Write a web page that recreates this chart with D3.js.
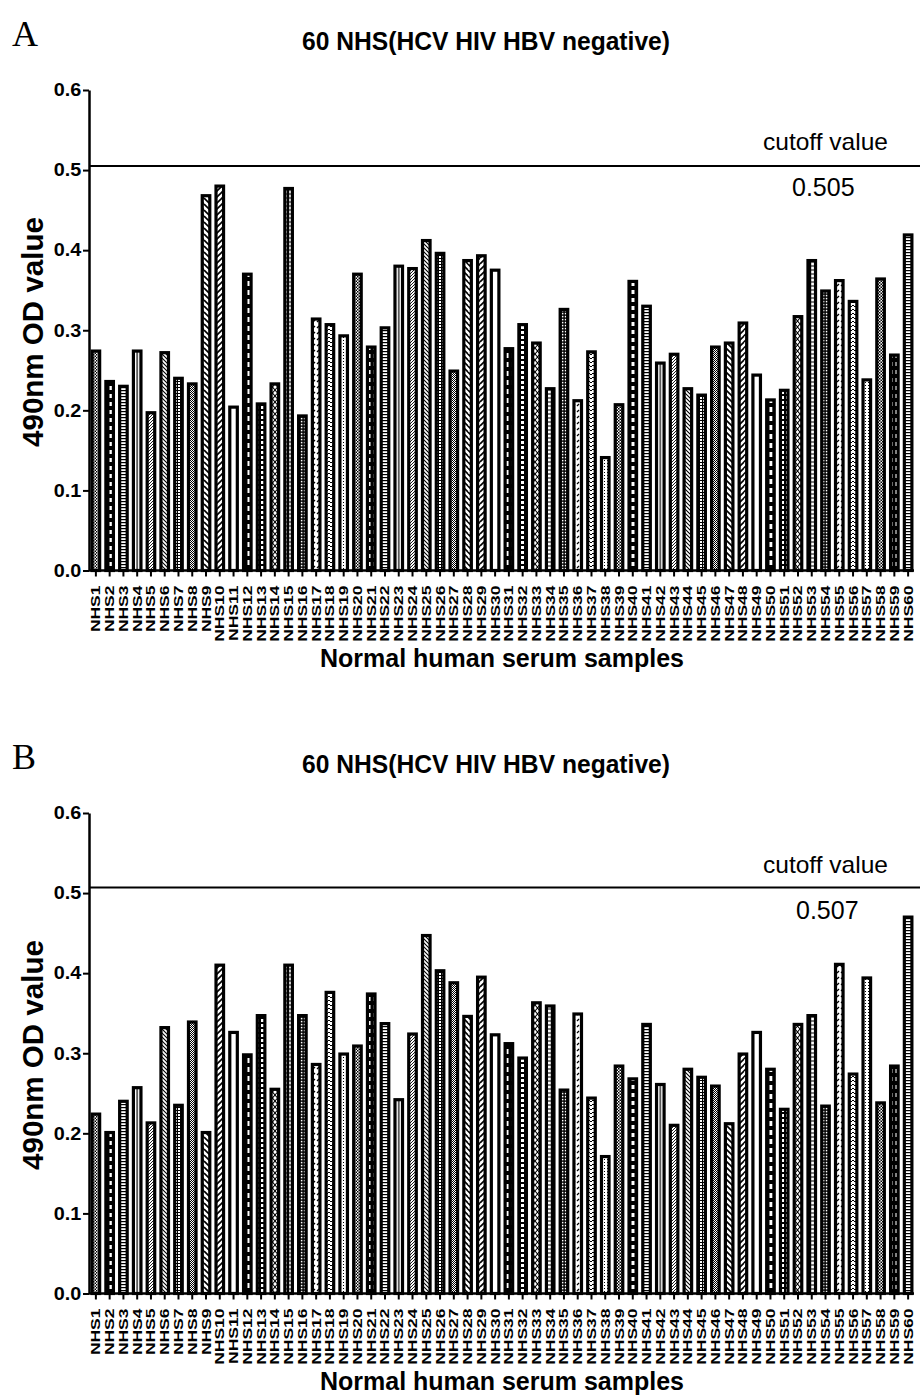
<!DOCTYPE html>
<html>
<head>
<meta charset="utf-8">
<script src="https://cdn.jsdelivr.net/npm/d3@7"></script>
<style>
  body { margin: 0; background: #fff; }
  text { font-family: "Liberation Sans", Arial, sans-serif; fill: #000; }
</style>
</head>
<body>
<div id="chart"></div>
<script>
const samples = ['NHS1','NHS2','NHS3','NHS4','NHS5','NHS6','NHS7','NHS8','NHS9','NHS10',
    'NHS11','NHS12','NHS13','NHS14','NHS15','NHS16','NHS17','NHS18','NHS19','NHS20',
    'NHS21','NHS22','NHS23','NHS24','NHS25','NHS26','NHS27','NHS28','NHS29','NHS30',
    'NHS31','NHS32','NHS33','NHS34','NHS35','NHS36','NHS37','NHS38','NHS39','NHS40',
    'NHS41','NHS42','NHS43','NHS44','NHS45','NHS46','NHS47','NHS48','NHS49','NHS50',
    'NHS51','NHS52','NHS53','NHS54','NHS55','NHS56','NHS57','NHS58','NHS59','NHS60']

const valuesA = [0.276, 0.238, 0.232, 0.276, 0.199, 0.274, 0.242, 0.235, 0.470, 0.482,
    0.206, 0.372, 0.210, 0.235, 0.479, 0.195, 0.316, 0.309, 0.295, 0.372,
    0.281, 0.305, 0.382, 0.379, 0.414, 0.398, 0.251, 0.389, 0.395, 0.377,
    0.279, 0.309, 0.286, 0.229, 0.328, 0.214, 0.275, 0.143, 0.209, 0.363,
    0.332, 0.261, 0.272, 0.229, 0.221, 0.281, 0.286, 0.311, 0.246, 0.215,
    0.227, 0.319, 0.389, 0.351, 0.364, 0.338, 0.240, 0.366, 0.271, 0.421]

const valuesB = [0.226, 0.203, 0.242, 0.259, 0.215, 0.334, 0.237, 0.341, 0.203, 0.412,
    0.328, 0.300, 0.349, 0.257, 0.412, 0.349, 0.288, 0.378, 0.301, 0.311,
    0.376, 0.339, 0.244, 0.326, 0.449, 0.405, 0.390, 0.348, 0.397, 0.325,
    0.314, 0.296, 0.365, 0.361, 0.256, 0.351, 0.246, 0.173, 0.286, 0.270,
    0.338, 0.263, 0.212, 0.282, 0.272, 0.261, 0.214, 0.301, 0.328, 0.282,
    0.232, 0.338, 0.349, 0.236, 0.413, 0.276, 0.396, 0.240, 0.286, 0.472]

const cutoffA = 0.505
const cutoffB = 0.507
const yTicks = [0.0, 0.1, 0.2, 0.3, 0.4, 0.5, 0.6]
const panelLetters = ['A', 'B']
const titleText = '60 NHS(HCV HIV HBV negative)'
const yTitle = '490nm OD value'
const xTitle = 'Normal human serum samples'

const width = 920
const height = 1395

const svg = d3.select('#chart')
    .append('svg')
    .attr('width', width)
    .attr('height', height)

// hatch patterns, cycled every 19 bars like the prism output
const defs = svg.append('defs')
const pat = (id, w, h, draw, bbox) => {
    const p = defs.append('pattern').attr('id', id)
    if (bbox) {
        p.attr('patternUnits', 'objectBoundingBox').attr('patternContentUnits', 'objectBoundingBox')
            .attr('width', 1).attr('height', 1)
    } else {
        p.attr('patternUnits', 'userSpaceOnUse').attr('width', w).attr('height', h)
    }
    p.append('rect').attr('width', bbox ? 1 : w).attr('height', bbox ? 1 : h).attr('fill', '#fff')
    draw(p)
}
const blk = (p, x, y, w, h) => p.append('rect').attr('x', x).attr('y', y).attr('width', w).attr('height', h).attr('fill', '#000')
const ln = (p, d, sw) => p.append('path').attr('d', d).attr('stroke', '#000').attr('stroke-width', sw).attr('fill', 'none')

pat('p0', 3, 3, (p) => { blk(p, 0, 0, 1.5, 1.5); blk(p, 1.5, 1.5, 1.5, 1.5) })
pat('p1', 6, 8, (p) => { blk(p, 0, 0, 6, 8); p.append('rect').attr('x', 1.5).attr('y', 2).attr('width', 3).attr('height', 4).attr('fill', '#fff') })
pat('p2', 4, 3, (p) => { blk(p, 0, 0, 4, 1.2) })
pat('p3', 0, 0, (p) => { blk(p, 0.42, 0, 0.16, 1) }, true)
pat('p4', 3, 3, (p) => { ln(p, 'M0,3 L3,0 M-1,1 L1,-1 M2,4 L4,2', 0.9) })
pat('p5', 4, 4, (p) => { ln(p, 'M0,0 L4,4 M-1,3 L1,5 M3,-1 L5,1', 1.1) })
pat('p6', 3, 3, (p) => { blk(p, 0, 0, 3, 1); blk(p, 0, 0, 1, 3) })
pat('p7', 2, 2, (p) => { blk(p, 0, 0, 1, 1); blk(p, 1, 1, 1, 1) })
pat('p8', 6, 6, (p) => { ln(p, 'M0,0 L6,6 M-3,3 L0,6 M3,-3 L9,3', 1.6) })
pat('p9', 6, 6, (p) => { ln(p, 'M0,6 L6,0 M-3,3 L0,0 M3,9 L9,3', 1.6) })
pat('p10', 4, 4, () => {})
pat('p11', 6, 9, (p) => { blk(p, 0, 0, 6, 9); p.append('rect').attr('x', 1.5).attr('y', 2).attr('width', 3).attr('height', 5).attr('fill', '#fff') })
pat('p12', 5, 5, (p) => { blk(p, 0, 0, 5, 5); p.append('rect').attr('x', 1).attr('y', 1).attr('width', 3).attr('height', 3).attr('fill', '#fff') })
pat('p13', 5, 6, (p) => { ln(p, 'M0,0 L5,6 M5,0 L0,6', 1.1) })
pat('p14', 6, 4, (p) => { blk(p, 0, 0, 1.2, 4); blk(p, 4.8, 0, 1.2, 4); blk(p, 0, 1.5, 6, 1) })
pat('p15', 3, 3, (p) => { blk(p, 0, 0, 3, 3); p.append('rect').attr('x', 0.8).attr('y', 0.8).attr('width', 1.6).attr('height', 1.6).attr('fill', '#fff') })
pat('p16', 4, 6, (p) => { ln(p, 'M1,4 L3,2', 1.2) })
pat('p17', 4, 4, (p) => { ln(p, 'M0,2 Q1,0 2,2 T4,2', 1) })
pat('p18', 3, 3, (p) => { blk(p, 1, 1, 1, 1) })

const drawPanel = (letter, values, cutoff, top) => {
    const g = svg.append('g').attr('transform', `translate(0, ${top})`)
    const x0 = 89
    const xScale = d3.scaleBand().domain(samples).range([x0, 915]).paddingInner(0.22).paddingOuter(0.11)
    const yScale = d3.scaleLinear().domain([0, 0.6]).range([570.5, 90])

    g.append('text').text(letter)
        .attr('x', 12).attr('y', 46)
        .style('font-family', '"Liberation Serif", "Times New Roman", serif')
        .style('font-size', '36px')

    g.append('text').text(titleText)
        .attr('x', 302).attr('y', 50)
        .attr('textLength', 368).attr('lengthAdjust', 'spacingAndGlyphs')
        .style('font-size', '25px').style('font-weight', 'bold')

    // bars
    const bw = xScale.bandwidth()
    g.selectAll('rect.bar')
        .data(values)
        .enter()
        .append('rect')
        .attr('class', 'bar')
        .attr('x', (d, i) => xScale(samples[i]) + 1.6)
        .attr('y', (d) => yScale(d) + 1.6)
        .attr('width', bw - 3.2)
        .attr('height', (d) => yScale(0) - yScale(d) - 1.6)
        .attr('fill', (d, i) => `url(#p${i % 19})`)
        .attr('stroke', '#000')
        .attr('stroke-width', 3.2)

    // cutoff line
    g.append('line')
        .attr('x1', x0).attr('x2', width)
        .attr('y1', yScale(cutoff)).attr('y2', yScale(cutoff))
        .attr('stroke', '#000').attr('stroke-width', 2)
    g.append('text').text('cutoff value')
        .attr('x', 763).attr('y', 150)
        .attr('textLength', 125).attr('lengthAdjust', 'spacingAndGlyphs')
        .style('font-size', '24px')
    g.append('text').text(cutoff.toFixed(3))
        .attr('x', letter === 'A' ? 792 : 796).attr('y', 196)
        .style('font-size', '25px')

    // axes
    const yAxis = d3.axisLeft(yScale).tickValues(yTicks).tickFormat(d3.format('.1f')).tickSize(6).tickSizeOuter(0).tickPadding(1)
    const ya = g.append('g').attr('transform', `translate(${x0}, 0)`).call(yAxis)
    ya.select('.domain').attr('stroke-width', 2.5)
    ya.selectAll('.tick line').attr('stroke-width', 2)
    ya.selectAll('.tick text')
        .style('font-size', '18px').style('font-weight', 'bold')
        .attr('transform', 'scale(1.1, 1)')

    const stretch = 1.4
    const xAxis = d3.axisBottom(xScale).tickSize(6).tickSizeOuter(0)
    const xa = g.append('g').attr('transform', `translate(0, ${yScale(0)})`).call(xAxis)
    xa.select('.domain').attr('stroke-width', 2.5).attr('d', `M${x0},0H914`)
    xa.selectAll('.tick line').attr('stroke-width', 2)
    xa.selectAll('.tick text')
        .style('font-size', '12.5px').style('font-weight', 'bold')
        .style('text-anchor', 'end')
        .attr('transform', `rotate(-90) scale(${stretch}, 1)`)
        .attr('x', -15 / stretch)
        .attr('y', 0)
        .attr('dy', '0.36em')

    g.append('text').text(yTitle)
        .attr('transform', 'translate(43, 332) rotate(-90)')
        .attr('text-anchor', 'middle')
        .attr('textLength', 230).attr('lengthAdjust', 'spacingAndGlyphs')
        .style('font-size', '29px').style('font-weight', 'bold')

    g.append('text').text(xTitle)
        .attr('x', 320).attr('y', 667)
        .attr('textLength', 364).attr('lengthAdjust', 'spacingAndGlyphs')
        .style('font-size', '26px').style('font-weight', 'bold')
}

drawPanel(panelLetters[0], valuesA, cutoffA, 0)
drawPanel(panelLetters[1], valuesB, cutoffB, 723)
</script>
</body>
</html>
